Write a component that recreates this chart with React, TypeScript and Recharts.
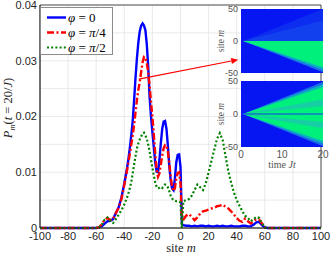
import React from 'react';
import {
  ComposedChart,
  Line,
  Area,
  XAxis,
  YAxis,
  CartesianGrid,
  Legend,
  ReferenceLine,
  ReferenceArea,
} from 'recharts';

// ---------- main chart data ----------
const sites = [
  -100, -60, -58, -56, -54, -52, -50, -48, -46, -44, -42, -40, -38,
  -37, -36, -35, -34, -33, -32, -31, -30, -29, -28,
  -27, -26, -25, -24, -23, -22, -21, -20, -19, -18,
  -17, -16, -15, -14, -13, -12, -11, -10, -9, -8,
  -7, -6, -5, -4, -3, -2, -1, 0, 1, 2,
  4, 6, 8, 10, 12, 14, 16, 18, 20, 22,
  24, 26, 28, 30, 32, 34, 36, 38, 40, 42,
  44, 46, 48, 50, 52, 54, 56, 58, 60, 62,
  100,
];

const phi0 = [
  0, 0, 0.0001, 0.0003, 0.0008, 0.0012, 0.0013, 0.0016, 0.0027, 0.0037, 0.0055, 0.008, 0.0108,
  0.0125, 0.0145, 0.0167, 0.0192, 0.023, 0.027, 0.0305, 0.0333, 0.0353, 0.0363,
  0.0367, 0.0363, 0.0355, 0.033, 0.029, 0.0235, 0.02, 0.0172, 0.0145, 0.0118,
  0.0101, 0.01, 0.0122, 0.0152, 0.0178, 0.0191, 0.0192, 0.0178, 0.0148, 0.0112,
  0.0086, 0.0071, 0.0068, 0.0088, 0.0118, 0.0131, 0.0132, 0.011, 0.0007, 0.0005,
  0.0004, 0.0004, 0.0003, 0.0004, 0.0003, 0.0004, 0.0004, 0.0003, 0.0004, 0.0003,
  0.0003, 0.0004, 0.0003, 0.0004, 0.0003, 0.0003, 0.0004, 0.0003, 0.0003, 0.0003,
  0.0004, 0.0004, 0.0003, 0.0003, 0.0006, 0.001, 0.0011, 0.0005, 0.0001, 0,
  0,
];

const phiQuarter = [
  0, 0, 0.0001, 0.0007, 0.0015, 0.0018, 0.0014, 0.0016, 0.0027, 0.0036, 0.0052, 0.0077, 0.0104,
  0.0119, 0.0134, 0.015, 0.0166, 0.0185, 0.0208, 0.023, 0.0248, 0.0262, 0.028,
  0.0297, 0.0307, 0.0306, 0.0296, 0.028, 0.0256, 0.0226, 0.02, 0.0168, 0.0134,
  0.0105, 0.0092, 0.0098, 0.0114, 0.013, 0.0143, 0.0149, 0.0148, 0.0137, 0.0117,
  0.0092, 0.0074, 0.0066, 0.0071, 0.0088, 0.0099, 0.01, 0.008, 0.0012, 0.0015,
  0.0022, 0.0025, 0.002, 0.0014, 0.0019, 0.0026, 0.003, 0.0031, 0.0033, 0.0035,
  0.0036, 0.0039, 0.004, 0.0042, 0.0038, 0.0035, 0.003, 0.0024, 0.0018, 0.0013,
  0.0011, 0.0017, 0.0012, 0.0008, 0.0012, 0.0016, 0.0015, 0.0008, 0.0001, 0,
  0,
];

const phiHalf = [
  0, 0, 0.0001, 0.0006, 0.0015, 0.0019, 0.0013, 0.0009, 0.0016, 0.0024, 0.0032, 0.0042, 0.0055,
  0.0063, 0.0072, 0.0083, 0.0098, 0.0114, 0.0129, 0.0143, 0.0152, 0.0159, 0.0164,
  0.0169, 0.0171, 0.0166, 0.016, 0.015, 0.0138, 0.0122, 0.0108, 0.0094, 0.0082,
  0.0074, 0.0071, 0.0072, 0.0074, 0.0072, 0.0075, 0.0078, 0.0077, 0.0073, 0.0066,
  0.0058, 0.0053, 0.005, 0.0049, 0.0048, 0.0048, 0.0047, 0.0046, 0, 0.0048,
  0.005, 0.0052, 0.0058, 0.0068, 0.0078, 0.0073, 0.0068, 0.008, 0.01, 0.012,
  0.014, 0.016, 0.017, 0.0158, 0.013, 0.0102, 0.0082, 0.0064, 0.005, 0.004,
  0.003, 0.0022, 0.0018, 0.0012, 0.0016, 0.002, 0.0018, 0.0008, 0.0001, 0,
  0,
];

const xTicks = [-100, -80, -60, -40, -20, 0, 20, 40, 60, 80, 100];
const yTicks = [0, 0.005, 0.01, 0.015, 0.02, 0.025, 0.03, 0.035, 0.04];
const legendRhs = ['0', 'π/4', 'π/2'];

// arrow endpoints (data coords): [m, P]
const redArrow = [
  [-29.7, 0.0267],
  [41.1, 0.0302],
];
const greenArrow = [
  [36.1, 0.0085],
  [56.7, 0.0135],
];

// ---------- inset data ----------
const insetTimes = [0.5, 20];
const insetTTicks = [0, 10, 20];
const insetMTicks = [-50, 0, 50];
// each band: [low, high] at every insetTimes entry
const topInsetBands = [
  [[0, 0], [0, 50]],
  [[0, 0], [0, 32]],
  [[0, 0], [-49, 0]],
  [[0, 0], [-45, 0]],
  [[0, 0], [-41, 0]],
];
const bottomInsetBands = [
  [[0, 0], [-49, 49]],
  [[0, 0], [-45, 45]],
  [[0, 0], [-41, 41]],
  [[0, 0], [12, 22]],
  [[0, 0], [-22, -12]],
];

const heatBlue = '#0516f3';
const topBandColors = ['#0c2df0', '#1240ee', '#1a6fe4', '#0cb2c0', '#00f07c'];
const bottomBandColors = ['#1a6fe4', '#0cb2c0', '#00f07c', '#16cfa4', '#16cfa4'];

const seriesKeys = ['p0', 'p4', 'p2'];
const seriesColors = ['#0000ff', '#ff0000', '#008000'];
const seriesDash = [undefined, '7 2.5 2 2.5', '2 2.2'];
const seriesWidth = [2.4, 2.4, 2.2];

const sans = '"Liberation Sans", Arial, sans-serif';
const serif = '"Liberation Serif", "DejaVu Serif", serif';

const makeArrow = (color: string) => (p: any) => {
  const { x1, y1, x2, y2 } = p;
  const ang = Math.atan2(y2 - y1, x2 - x1);
  const L = 7;
  const Wd = 3;
  const bx = x2 - L * Math.cos(ang);
  const by = y2 - L * Math.sin(ang);
  const px = -Math.sin(ang) * Wd;
  const py = Math.cos(ang) * Wd;
  return (
    <g>
      <line x1={x1} y1={y1} x2={bx} y2={by} stroke={color} strokeWidth={1.2} />
      <polygon
        points={`${x2},${y2} ${bx + px},${by + py} ${bx - px},${by - py}`}
        fill={color}
      />
    </g>
  );
};

const LegendBox = () => (
  <div
    style={{
      width: 73,
      height: 48,
      border: '1px solid #8c8c8c',
      background: '#fff',
      boxSizing: 'border-box',
      position: 'relative',
    }}
  >
    {legendRhs.map((rhs, i) => (
      <div
        key={i}
        style={{
          position: 'absolute',
          left: 0,
          top: 2 + i * 15,
          height: 15,
          display: 'flex',
          alignItems: 'center',
        }}
      >
        <svg width={27} height={15} style={{ display: 'block' }}>
          <line
            x1={6}
            x2={25}
            y1={7.5}
            y2={7.5}
            stroke={seriesColors[i]}
            strokeWidth={seriesWidth[i]}
            strokeDasharray={seriesDash[i]}
          />
        </svg>
        <span style={{ fontFamily: serif, fontSize: 13, color: '#000', whiteSpace: 'nowrap', lineHeight: '15px' }}>
          <i>φ</i> = {rhs.startsWith('π') ? (<><i>π</i>{rhs.slice(1)}</>) : rhs}
        </span>
      </div>
    ))}
  </div>
);

const yLabel = () => (
  <text
    x={12}
    y={108}
    transform="rotate(-90 12 108)"
    textAnchor="middle"
    fontFamily={serif}
    fontSize={12.5}
    fill="#262626"
  >
    <tspan fontStyle="italic">P</tspan>
    <tspan fontStyle="italic" fontSize={8.5} dy={3}>m</tspan>
    <tspan dy={-3}>(</tspan>
    <tspan fontStyle="italic">t</tspan>
    <tspan> = 20/</tspan>
    <tspan fontStyle="italic">J</tspan>
    <tspan>)</tspan>
  </text>
);

const xLabel = () => (
  <text x={181} y={252} textAnchor="middle" fontFamily={serif} fontSize={12.5} fill="#262626">
    site <tspan fontStyle="italic">m</tspan>
  </text>
);

function buildInsetRows(bands: number[][][]) {
  return insetTimes.map((t, k) => {
    const row: any = { t };
    bands.forEach((b, i) => {
      row['b' + i] = b[k];
    });
    return row;
  });
}

function Inset(props: {
  bands: number[][][];
  colors: string[];
  left: number;
  top: number;
  height: number;
  marginTop: number;
  marginBottom: number;
  showX: boolean;
  labelY: number;
  centerLine: boolean;
}) {
  const rows = buildInsetRows(props.bands);
  return (
    <div style={{ position: 'absolute', left: props.left, top: props.top }}>
      <ComposedChart
        width={117}
        height={props.height}
        data={rows}
        margin={{ top: props.marginTop, right: 9, bottom: props.marginBottom, left: 0 }}
      >
        <XAxis
          type="number"
          dataKey="t"
          domain={[0, 20]}
          ticks={insetTTicks}
          hide={!props.showX}
          height={props.showX ? 28 : 0}
          axisLine={false}
          tickLine={false}
          tickSize={2}
          tickMargin={1.5}
          interval={0}
          tick={{ fontSize: 10, fill: '#555', fontFamily: sans }}
          label={
            props.showX
              ? () => (
                  <text x={67} y={93} textAnchor="middle" fontFamily={serif} fontSize={10} fill="#555">
                    time <tspan fontStyle="italic">Jt</tspan>
                  </text>
                )
              : undefined
          }
        />
        <YAxis
          type="number"
          domain={[-50, 50]}
          ticks={insetMTicks}
          width={26}
          axisLine={false}
          tickLine={false}
          tickSize={3}
          tickMargin={0}
          interval={0}
          tick={{ fontSize: 9, fill: '#555', fontFamily: sans }}
          label={() => (
            <text
              x={9}
              y={props.labelY}
              transform={`rotate(-90 9 ${props.labelY})`}
              textAnchor="middle"
              fontFamily={serif}
              fontSize={9.5}
              fill="#555"
            >
              site <tspan fontStyle="italic">m</tspan>
            </text>
          )}
        />
        <ReferenceArea x1={0} x2={20} y1={-50} y2={50} fill={heatBlue} fillOpacity={1} stroke="none" />
        {props.bands.map((_, i) => (
          <Area
            key={i}
            dataKey={'b' + i}
            type="linear"
            fill={props.colors[i]}
            fillOpacity={1}
            stroke="none"
            dot={false}
            activeDot={false}
            isAnimationActive={false}
          />
        ))}
        {props.centerLine ? (
          <ReferenceLine y={0} stroke="#1638f0" strokeWidth={1.2} />
        ) : null}
      </ComposedChart>
    </div>
  );
}

export default function App() {
  const data = sites.map((m, i) => ({
    m,
    p0: phi0[i],
    p4: phiQuarter[i],
    p2: phiHalf[i],
  }));

  return (
    <div
      style={{
        position: 'fixed',
        left: 0,
        top: 0,
        width: 332,
        height: 255,
        background: '#fff',
        overflow: 'hidden',
      }}
    >
      <div style={{ position: 'absolute', left: 0, top: 0 }}>
        <ComposedChart width={332} height={255} data={data} margin={{ top: 5, right: 11, bottom: 0, left: 0 }}>
          <CartesianGrid stroke="#e4e4e4" strokeWidth={0.8} />
          <XAxis
            type="number"
            dataKey="m"
            domain={[-100, 100]}
            ticks={xTicks}
            interval={0}
            height={27}
            axisLine={{ stroke: '#262626', strokeWidth: 0.8 }}
            tickLine={false}
            tickSize={2}
            tickMargin={2}
            tick={{ fontSize: 11, fill: '#262626', fontFamily: sans }}
            label={xLabel}
          />
          <YAxis
            type="number"
            domain={[0, 0.04]}
            ticks={yTicks}
            interval={0}
            width={40}
            axisLine={{ stroke: '#262626', strokeWidth: 0.8 }}
            tickLine={false}
            tickSize={3}
            tickMargin={0}
            tick={{ fontSize: 11, fill: '#262626', fontFamily: sans }}
            tickFormatter={(v: number) => {
              const k = Math.round(v / 0.005);
              if (k % 2 !== 0) return '';
              return k === 0 ? '0' : (k * 0.005).toFixed(2);
            }}
            label={yLabel}
          />
          {seriesKeys.map((k, i) => (
            <Line
              key={k}
              dataKey={k}
              type="linear"
              stroke={seriesColors[i]}
              strokeWidth={seriesWidth[i]}
              strokeDasharray={seriesDash[i]}
              dot={false}
              activeDot={false}
              isAnimationActive={false}
            />
          ))}
          <ReferenceArea
            x1={-100}
            x2={100}
            y1={0}
            y2={0.04}
            fill="none"
            stroke="#262626"
            strokeWidth={0.8}
          />
          <ReferenceLine
            segment={[
              { x: redArrow[0][0], y: redArrow[0][1] },
              { x: redArrow[1][0], y: redArrow[1][1] },
            ]}
            ifOverflow="visible"
            shape={makeArrow('#ff0000')}
          />
          <Legend
            layout="vertical"
            align="center"
            verticalAlign="middle"
            content={() => <LegendBox />}
            wrapperStyle={{ position: 'absolute', left: 40, top: 7, width: 73, height: 48, bottom: 'auto', right: 'auto' }}
          />
        </ComposedChart>
      </div>
      <Inset
        bands={topInsetBands}
        colors={topBandColors}
        left={215}
        top={0}
        height={80}
        marginTop={9}
        marginBottom={7}
        showX={false}
        labelY={41}
        centerLine={false}
      />
      <Inset
        bands={bottomInsetBands}
        colors={bottomBandColors}
        left={215}
        top={75}
        height={100}
        marginTop={6}
        marginBottom={0}
        showX={true}
        labelY={39}
        centerLine={true}
      />
      <div style={{ position: 'absolute', left: 0, top: 0, pointerEvents: 'none' }}>
        <ComposedChart width={332} height={255} data={data} margin={{ top: 5, right: 11, bottom: 0, left: 0 }}>
          <XAxis type="number" dataKey="m" domain={[-100, 100]} height={27} hide />
          <YAxis type="number" domain={[0, 0.04]} width={40} hide />
          <ReferenceLine
            segment={[
              { x: greenArrow[0][0], y: greenArrow[0][1] },
              { x: greenArrow[1][0], y: greenArrow[1][1] },
            ]}
            ifOverflow="visible"
            shape={makeArrow('#008000')}
          />
        </ComposedChart>
      </div>
    </div>
  );
}
